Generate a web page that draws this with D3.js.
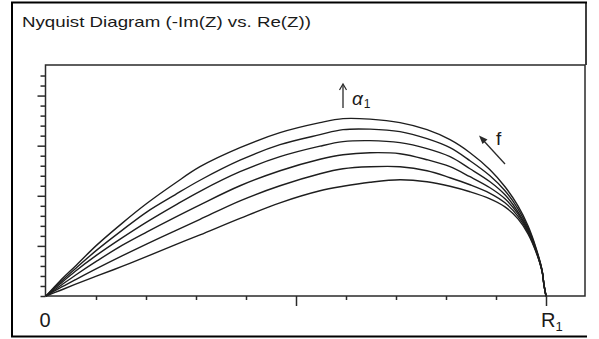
<!DOCTYPE html>
<html>
<head>
<meta charset="utf-8">
<script src="https://cdn.jsdelivr.net/npm/d3@7"></script>
<style>
  html, body { margin: 0; padding: 0; background: #fff; }
  svg { display: block; }
  text { font-family: "Liberation Sans", Arial, sans-serif; fill: #1a1a1a; }
</style>
</head>
<body>
<svg id="chart" width="599" height="339"></svg>
<script>
// Real part of Z, in units of R1
const reZ = [0, 0.028, 0.058, 0.102, 0.152, 0.202, 0.258, 0.308, 0.388, 0.468,
             0.548, 0.594, 0.648, 0.708, 0.762, 0.808, 0.848, 0.888, 0.918, 0.944,
             0.964, 0.980, 0.992, 0.996, 1.0];

// -Im(Z) for each curve (top curve = largest alpha1), in units of R1
const negImZ1 = [0, 0.030, 0.059, 0.102, 0.145, 0.185, 0.225, 0.258, 0.296, 0.326,
                 0.346, 0.354, 0.353, 0.346, 0.332, 0.312, 0.286, 0.252, 0.218, 0.180,
                 0.140, 0.096, 0.052, 0.022, 0];
const negImZ2 = [0, 0.027, 0.054, 0.092, 0.131, 0.168, 0.202, 0.231, 0.271, 0.302,
                 0.322, 0.332, 0.333, 0.328, 0.314, 0.296, 0.270, 0.240, 0.210, 0.174,
                 0.136, 0.094, 0.052, 0.022, 0];
const negImZ3 = [0, 0.024, 0.049, 0.082, 0.116, 0.148, 0.181, 0.209, 0.248, 0.278,
                 0.299, 0.308, 0.310, 0.306, 0.294, 0.278, 0.254, 0.228, 0.202, 0.168,
                 0.132, 0.092, 0.051, 0.022, 0];
const negImZ4 = [0, 0.020, 0.041, 0.070, 0.101, 0.128, 0.157, 0.182, 0.220, 0.250,
                 0.273, 0.282, 0.286, 0.284, 0.272, 0.258, 0.238, 0.216, 0.194, 0.164,
                 0.130, 0.091, 0.050, 0.022, 0];
const negImZ5 = [0, 0.016, 0.032, 0.055, 0.080, 0.104, 0.130, 0.153, 0.190, 0.220,
                 0.244, 0.254, 0.258, 0.258, 0.250, 0.236, 0.222, 0.205, 0.186, 0.159,
                 0.127, 0.090, 0.050, 0.021, 0];
const negImZ6 = [0, 0.011, 0.023, 0.040, 0.059, 0.079, 0.102, 0.122, 0.155, 0.186,
                 0.210, 0.219, 0.227, 0.232, 0.228, 0.219, 0.208, 0.194, 0.178, 0.154,
                 0.124, 0.088, 0.050, 0.021, 0];
const curves = [negImZ1, negImZ2, negImZ3, negImZ4, negImZ5, negImZ6];

// Axis ticks (units of R1)
const xTicks = [0.1, 0.2, 0.3, 0.4, 0.5, 0.6, 0.7, 0.8, 0.9, 1.0];
const xMajor = [0.5, 1.0];
const yTicks = d3.range(0, 23).map(i => i * 0.02);
const yMajor = [0.1, 0.2, 0.3, 0.4];

const titleText = "Nyquist Diagram (-Im(Z) vs. Re(Z))";

const svg = d3.select("#chart");
const ink = "#2a2a2a";

const x = d3.scaleLinear().domain([0, 1.078]).range([46, 585]);
const y = d3.scaleLinear().domain([0, 0.461]).range([296, 65]);

// Outer panel frame (open on the right)
svg.append("path")
  .attr("d", "M587,2.5 H12 V336.5 H587")
  .attr("fill", "none").attr("stroke", "#000").attr("stroke-width", 2);
svg.append("line")
  .attr("x1", 586).attr("x2", 586).attr("y1", 2).attr("y2", 65)
  .attr("stroke", "#000").attr("stroke-width", 1.5);

// Title
svg.append("text")
  .attr("x", 22).attr("y", 27)
  .attr("font-size", 15)
  .attr("textLength", 289).attr("lengthAdjust", "spacingAndGlyphs")
  .text(titleText);

// Plot frame
svg.append("rect")
  .attr("x", x(0) - 0.5).attr("y", y(0.461))
  .attr("width", x(1.078) - x(0) + 0.5).attr("height", y(0) - y(0.461))
  .attr("fill", "none").attr("stroke", ink).attr("stroke-width", 1.5);

// X axis ticks (below the axis line)
const xAxis = d3.axisBottom(x).tickValues(xTicks).tickFormat("")
  .tickSize(0).tickSizeOuter(0);
const gx = svg.append("g").attr("transform", `translate(0,${y(0)})`).call(xAxis);
gx.select(".domain").remove();
gx.selectAll(".tick line")
  .attr("y2", d => xMajor.some(m => Math.abs(m - d) < 1e-9) ? 10 : 4)
  .attr("stroke", ink).attr("stroke-width", 1.5);

// Y axis ticks (left of the axis line)
const yAxis = d3.axisLeft(y).tickValues(yTicks).tickFormat("")
  .tickSize(0).tickSizeOuter(0);
const gy = svg.append("g").attr("transform", `translate(${x(0) - 0.5},0)`).call(yAxis);
gy.select(".domain").remove();
gy.selectAll(".tick line")
  .attr("x2", d => yMajor.some(m => Math.abs(m - d) < 1e-9) ? -8 : -5)
  .attr("stroke", ink).attr("stroke-width", 1.5);

// Axis end labels
svg.append("text").attr("x", x(0) - 1).attr("y", 327)
  .attr("text-anchor", "middle").attr("font-size", 20).text("0");
const r1 = svg.append("text").attr("x", x(1.0) - 5).attr("y", 327).attr("font-size", 20);
r1.append("tspan").text("R");
r1.append("tspan").attr("font-size", 13).attr("dy", 4).text("1");

// Impedance curves
const line = d3.line()
  .x((d, i) => x(reZ[i]))
  .y(d => y(d))
  .curve(d3.curveCatmullRom.alpha(0.5));

svg.append("g").selectAll("path")
  .data(curves)
  .join("path")
  .attr("d", line)
  .attr("fill", "none")
  .attr("stroke", "#1e1e1e")
  .attr("stroke-width", 1.4);

// Arrow showing increasing alpha1
const ax = 343;
svg.append("line").attr("x1", ax).attr("x2", ax).attr("y1", 108).attr("y2", 85)
  .attr("stroke", ink).attr("stroke-width", 1.3);
svg.append("path").attr("d", `M${ax - 3.5},90 L${ax},84 L${ax + 3.5},90`)
  .attr("fill", "none").attr("stroke", ink).attr("stroke-width", 1.2);
const al = svg.append("text").attr("x", 352).attr("y", 105).attr("font-size", 19);
al.append("tspan").attr("font-style", "italic").text("α");
al.append("tspan").attr("font-size", 12).attr("dy", 3).attr("dx", 1).text("1");

// Arrow showing increasing frequency
svg.append("line").attr("x1", 505).attr("y1", 164).attr("x2", 483).attr("y2", 140)
  .attr("stroke", ink).attr("stroke-width", 1.3);
svg.append("path").attr("d", "M479,135.5 L487.5,139.5 L482.5,144 Z")
  .attr("fill", ink);
svg.append("text").attr("x", 496).attr("y", 145).attr("font-size", 19).text("f");
</script>
</body>
</html>
